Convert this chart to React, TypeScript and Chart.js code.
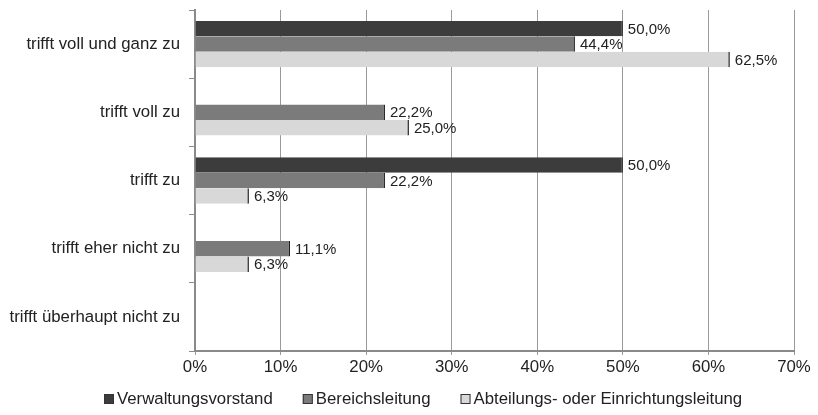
import React, { useEffect, useRef } from "react";
import { Chart, registerables } from "chart.js";

Chart.register(...registerables);

const categories = [
  "trifft voll und ganz zu",
  "trifft voll zu",
  "trifft zu",
  "trifft eher nicht zu",
  "trifft überhaupt nicht zu",
];
const seriesNames = [
  "Verwaltungsvorstand",
  "Bereichsleitung",
  "Abteilungs- oder Einrichtungsleitung",
];
const verwaltungsvorstand = [50.0, 0, 50.0, 0, 0];
const bereichsleitung = [44.4, 22.2, 22.2, 11.1, 0];
const abteilungsleitung = [62.5, 25.0, 6.3, 6.3, 0];
const seriesColors = ["#3c3c3c", "#7b7b7b", "#d8d8d8"];
const xTicks = [0, 10, 20, 30, 40, 50, 60, 70];

const FONT = "'Liberation Sans', Arial, sans-serif";
const AXIS_SIZE = 16.8;

// value labels placed just past the end of each bar
const valueLabels = {
  id: "valueLabels",
  afterDatasetsDraw(chart: any) {
    const ctx = chart.ctx;
    ctx.save();
    ctx.font = `15px ${FONT}`;
    ctx.fillStyle = "#222";
    ctx.textBaseline = "middle";
    ctx.textAlign = "left";
    chart.data.datasets.forEach((ds: any, i: number) => {
      const meta = chart.getDatasetMeta(i);
      meta.data.forEach((bar: any, j: number) => {
        const v = ds.data[j];
        if (!v) return;
        const txt = v.toFixed(1).replace(".", ",") + "%";
        ctx.fillText(txt, bar.x + 5, bar.y + 1);
      });
    });
    ctx.restore();
  },
};

// compact legend row under the axis
const bottomLegend = {
  id: "bottomLegend",
  afterDraw(chart: any) {
    const ctx = chart.ctx;
    ctx.save();
    ctx.font = `${AXIS_SIZE}px ${FONT}`;
    ctx.textBaseline = "middle";
    ctx.textAlign = "left";
    const box = 10;
    const gap = 3;
    const spacing = 30;
    const y = 399;
    let x = 104;
    chart.data.datasets.forEach((ds: any, i: number) => {
      ctx.fillStyle = seriesColors[i];
      ctx.fillRect(x, y - box / 2, box, box);
      ctx.strokeStyle = "#333";
      ctx.lineWidth = 1;
      ctx.strokeRect(x + 0.5, y - box / 2 + 0.5, box - 1, box - 1);
      ctx.fillStyle = "#222";
      const tx = x + box + gap;
      ctx.fillText(ds.label, tx, y);
      x = tx + ctx.measureText(ds.label).width + spacing;
    });
    ctx.restore();
  },
};

export default function App() {
  const ref = useRef<HTMLCanvasElement>(null);
  useEffect(() => {
    document.body.style.margin = "0";
    const data = [verwaltungsvorstand, bereichsleitung, abteilungsleitung];
    const chart = new Chart(ref.current!, {
      type: "bar",
      data: {
        labels: categories,
        datasets: seriesNames.map((name, i) => ({
          label: name,
          data: data[i],
          backgroundColor: seriesColors[i],
          borderColor: "#1a1a1a",
          borderWidth: { top: 0, bottom: 0, left: 0, right: 1.5 },
          borderSkipped: false,
          barPercentage: 1.0,
          categoryPercentage: 0.68,
        })),
      },
      options: {
        indexAxis: "y",
        animation: false,
        responsive: false,
        layout: { padding: { top: 1, right: 24, left: 0, bottom: 36 } },
        scales: {
          x: {
            min: 0,
            max: 70,
            afterBuildTicks: (axis: any) => {
              axis.ticks = xTicks.map((v) => ({ value: v }));
            },
            afterFit: (axis: any) => {
              axis.height = 28;
            },
            grid: {
              color: "#9a9a9a",
              lineWidth: 1,
              tickLength: 4,
            },
            border: { color: "#8a8a8a", width: 2 },
            ticks: {
              font: { family: FONT, size: AXIS_SIZE },
              color: "#222",
              padding: 2,
              callback: (v: any) => v + "%",
            },
          },
          y: {
            afterFit: (axis: any) => {
              axis.width = 195;
              axis.paddingTop = 10;
            },
            grid: {
              offset: true,
              drawOnChartArea: false,
              color: "#8a8a8a",
              tickLength: 6,
            },
            border: { color: "#8a8a8a", width: 2 },
            ticks: {
              font: { family: FONT, size: AXIS_SIZE },
              color: "#222",
              padding: 9,
            },
          },
        },
        plugins: {
          legend: { display: false },
          tooltip: { enabled: false },
        },
      },
      plugins: [valueLabels, bottomLegend],
    } as any);
    return () => chart.destroy();
  }, []);
  return <canvas ref={ref} width={818} height={415} />;
}
